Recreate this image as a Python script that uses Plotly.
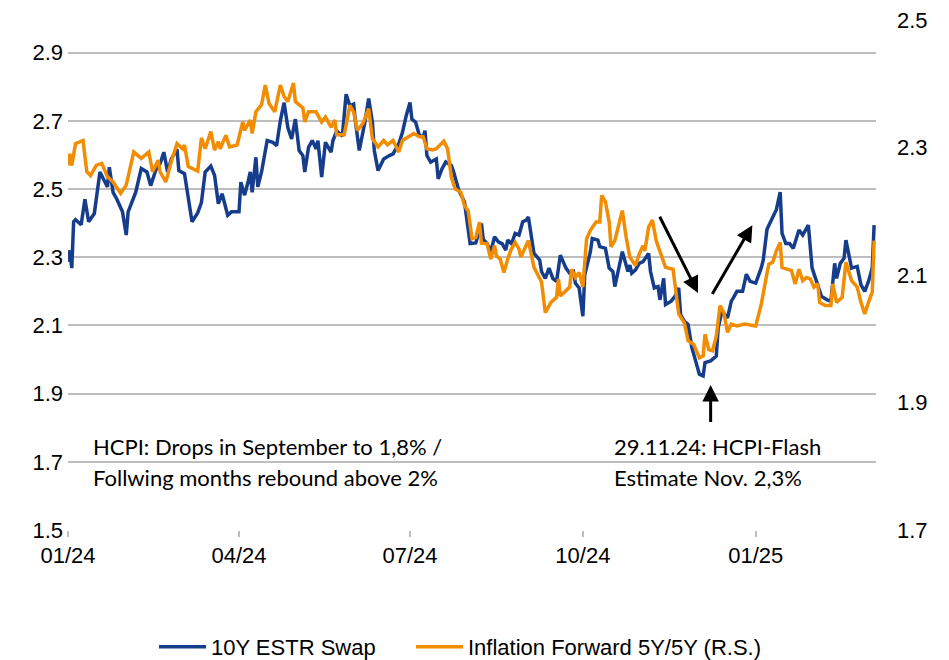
import plotly.graph_objects as go

# ---------------- data ----------------
swap_dates = [
    "2024-01-01", "2024-01-02", "2024-01-03", "2024-01-04", "2024-01-05", "2024-01-08", "2024-01-10", "2024-01-12",
    "2024-01-15", "2024-01-18", "2024-01-22", "2024-01-23", "2024-01-25", "2024-01-27", "2024-01-30",
    "2024-02-01", "2024-02-02", "2024-02-05", "2024-02-06", "2024-02-09", "2024-02-12", "2024-02-14", "2024-02-17",
    "2024-02-19", "2024-02-21", "2024-02-23", "2024-02-25", "2024-02-28", "2024-02-29",
    "2024-03-03", "2024-03-05", "2024-03-07", "2024-03-10", "2024-03-12", "2024-03-14", "2024-03-17", "2024-03-19",
    "2024-03-21", "2024-03-23", "2024-03-26", "2024-03-28",
    "2024-04-01", "2024-04-02", "2024-04-04", "2024-04-06", "2024-04-07", "2024-04-08", "2024-04-10", "2024-04-11",
    "2024-04-13", "2024-04-16", "2024-04-19", "2024-04-21", "2024-04-23", "2024-04-25", "2024-04-27", "2024-04-29",
    "2024-05-01", "2024-05-03", "2024-05-05", "2024-05-06", "2024-05-08", "2024-05-10", "2024-05-12", "2024-05-13",
    "2024-05-15", "2024-05-17", "2024-05-20", "2024-05-21", "2024-05-23", "2024-05-26", "2024-05-28", "2024-05-30",
    "2024-06-01", "2024-06-02", "2024-06-04", "2024-06-07", "2024-06-09", "2024-06-11", "2024-06-12", "2024-06-14",
    "2024-06-17", "2024-06-20", "2024-06-22", "2024-06-25", "2024-06-27", "2024-06-29",
    "2024-07-01", "2024-07-02", "2024-07-04", "2024-07-06", "2024-07-08", "2024-07-09", "2024-07-10", "2024-07-12",
    "2024-07-15", "2024-07-16", "2024-07-18", "2024-07-20", "2024-07-23", "2024-07-24", "2024-07-27", "2024-07-30",
    "2024-07-31",
    "2024-08-02", "2024-08-05", "2024-08-08", "2024-08-09", "2024-08-11", "2024-08-13", "2024-08-15", "2024-08-17",
    "2024-08-19", "2024-08-21", "2024-08-22", "2024-08-24", "2024-08-26", "2024-08-28", "2024-08-30",
    "2024-09-01", "2024-09-02", "2024-09-05", "2024-09-08", "2024-09-09", "2024-09-11", "2024-09-13", "2024-09-15",
    "2024-09-17", "2024-09-19", "2024-09-22", "2024-09-24", "2024-09-26", "2024-09-27", "2024-09-29",
    "2024-10-01", "2024-10-02", "2024-10-05", "2024-10-06", "2024-10-09", "2024-10-10", "2024-10-13", "2024-10-15",
    "2024-10-17", "2024-10-18", "2024-10-20", "2024-10-22", "2024-10-25", "2024-10-26", "2024-10-27", "2024-10-29",
    "2024-10-31",
    "2024-11-02", "2024-11-05", "2024-11-06", "2024-11-08", "2024-11-10", "2024-11-11", "2024-11-13", "2024-11-14",
    "2024-11-17", "2024-11-19", "2024-11-21", "2024-11-22", "2024-11-24", "2024-11-26", "2024-11-28", "2024-11-30",
    "2024-12-02", "2024-12-04", "2024-12-05", "2024-12-08", "2024-12-11", "2024-12-12", "2024-12-14", "2024-12-17",
    "2024-12-19", "2024-12-20", "2024-12-22", "2024-12-25", "2024-12-27", "2024-12-29",
    "2025-01-01", "2025-01-04", "2025-01-05", "2025-01-07", "2025-01-10", "2025-01-12", "2025-01-14", "2025-01-15",
    "2025-01-17", "2025-01-19", "2025-01-21", "2025-01-24", "2025-01-26", "2025-01-29", "2025-01-31",
    "2025-02-03", "2025-02-05", "2025-02-08", "2025-02-10", "2025-02-12", "2025-02-13", "2025-02-15", "2025-02-17",
    "2025-02-18", "2025-02-21", "2025-02-24", "2025-02-26", "2025-02-28",
    "2025-03-02", "2025-03-04", "2025-03-05",
]
swap_values = [
    2.287, 2.32, 2.268, 2.404, 2.41, 2.395, 2.47, 2.404,
    2.428, 2.55, 2.506, 2.564, 2.49, 2.47, 2.433,
    2.365, 2.433, 2.48, 2.49, 2.56, 2.55, 2.51, 2.56,
    2.574, 2.608, 2.55, 2.588, 2.617, 2.554,
    2.545, 2.47, 2.404, 2.43, 2.46, 2.55, 2.567, 2.54,
    2.457, 2.486, 2.423, 2.433,
    2.433, 2.52, 2.482, 2.525, 2.55, 2.49, 2.593, 2.506,
    2.55, 2.642, 2.637, 2.627, 2.70, 2.753, 2.68, 2.647,
    2.705, 2.613, 2.598, 2.55, 2.622, 2.642, 2.618, 2.642,
    2.535, 2.637, 2.608, 2.642, 2.67, 2.655, 2.778, 2.744,
    2.749, 2.696, 2.613, 2.696, 2.765, 2.696, 2.613, 2.554,
    2.588, 2.598, 2.603, 2.632, 2.666, 2.715,
    2.754, 2.705, 2.696, 2.657, 2.652, 2.671, 2.598, 2.579,
    2.588, 2.53, 2.559, 2.579, 2.569, 2.554, 2.496, 2.462,
    2.423,
    2.34, 2.342, 2.399, 2.352, 2.34, 2.316, 2.36, 2.345,
    2.34, 2.321, 2.35, 2.34, 2.37, 2.365, 2.404,
    2.409, 2.418, 2.311, 2.292, 2.258, 2.238, 2.268, 2.238,
    2.229, 2.306, 2.268, 2.253, 2.258, 2.224, 2.21,
    2.127, 2.248, 2.316, 2.355, 2.35, 2.331, 2.326, 2.268,
    2.258, 2.214, 2.268, 2.316, 2.258, 2.277, 2.253, 2.263,
    2.282,
    2.287, 2.311, 2.258, 2.21, 2.214, 2.175, 2.238, 2.161,
    2.171, 2.185, 2.21, 2.132, 2.112, 2.103, 2.035, 1.996,
    1.957, 1.952, 1.991, 1.996, 2.01, 2.093, 2.141, 2.122,
    2.171, 2.18, 2.20, 2.20, 2.25, 2.229,
    2.224, 2.27, 2.292, 2.382, 2.42, 2.44, 2.491, 2.37,
    2.34, 2.34, 2.326, 2.38, 2.365, 2.394, 2.268,
    2.214, 2.185, 2.175, 2.171, 2.282, 2.238, 2.282, 2.297,
    2.35, 2.268, 2.273, 2.219, 2.20,
    2.229, 2.268, 2.394,
]

infl_dates = [
    "2024-01-01", "2024-01-02", "2024-01-03", "2024-01-05", "2024-01-09", "2024-01-11", "2024-01-13", "2024-01-16",
    "2024-01-19", "2024-01-22", "2024-01-25", "2024-01-29",
    "2024-02-01", "2024-02-05", "2024-02-09", "2024-02-13", "2024-02-15", "2024-02-18", "2024-02-19", "2024-02-22",
    "2024-02-25", "2024-02-28",
    "2024-03-02", "2024-03-03", "2024-03-05", "2024-03-10", "2024-03-12", "2024-03-14", "2024-03-17", "2024-03-19",
    "2024-03-21", "2024-03-22", "2024-03-25", "2024-03-27", "2024-03-31",
    "2024-04-03", "2024-04-04", "2024-04-07", "2024-04-08", "2024-04-10", "2024-04-13", "2024-04-15", "2024-04-17",
    "2024-04-20", "2024-04-23", "2024-04-25", "2024-04-27", "2024-04-30",
    "2024-05-01", "2024-05-05", "2024-05-06", "2024-05-08", "2024-05-12", "2024-05-15", "2024-05-17", "2024-05-20",
    "2024-05-22", "2024-05-23", "2024-05-27", "2024-05-30",
    "2024-06-01", "2024-06-03", "2024-06-06", "2024-06-09", "2024-06-11", "2024-06-14", "2024-06-17", "2024-06-19",
    "2024-06-22", "2024-06-25", "2024-06-27", "2024-06-30",
    "2024-07-03", "2024-07-06", "2024-07-08", "2024-07-10", "2024-07-13", "2024-07-15", "2024-07-17", "2024-07-19",
    "2024-07-21", "2024-07-23", "2024-07-25", "2024-07-28", "2024-07-30",
    "2024-08-01", "2024-08-03", "2024-08-05", "2024-08-07", "2024-08-08", "2024-08-11", "2024-08-13", "2024-08-15",
    "2024-08-16", "2024-08-18", "2024-08-20", "2024-08-22", "2024-08-24", "2024-08-26", "2024-08-28", "2024-08-29",
    "2024-08-31",
    "2024-09-02", "2024-09-05", "2024-09-08", "2024-09-09", "2024-09-11", "2024-09-14", "2024-09-17", "2024-09-18",
    "2024-09-19", "2024-09-22", "2024-09-24", "2024-09-25", "2024-09-27", "2024-09-29",
    "2024-10-01", "2024-10-03", "2024-10-05", "2024-10-08", "2024-10-10", "2024-10-11", "2024-10-13", "2024-10-15",
    "2024-10-16", "2024-10-18", "2024-10-20", "2024-10-22", "2024-10-24", "2024-10-26", "2024-10-29", "2024-10-31",
    "2024-11-02", "2024-11-03", "2024-11-05", "2024-11-07", "2024-11-09", "2024-11-11", "2024-11-14", "2024-11-18",
    "2024-11-19", "2024-11-21", "2024-11-24", "2024-11-26", "2024-11-29",
    "2024-12-02", "2024-12-04", "2024-12-05", "2024-12-07", "2024-12-09", "2024-12-11", "2024-12-13", "2024-12-15",
    "2024-12-17", "2024-12-19", "2024-12-22", "2024-12-26", "2024-12-29",
    "2025-01-01", "2025-01-04", "2025-01-05", "2025-01-07", "2025-01-08", "2025-01-10", "2025-01-12", "2025-01-14",
    "2025-01-15", "2025-01-18", "2025-01-20", "2025-01-22", "2025-01-24", "2025-01-26", "2025-01-28", "2025-01-30",
    "2025-02-01", "2025-02-03", "2025-02-04", "2025-02-07", "2025-02-10", "2025-02-11", "2025-02-13", "2025-02-16",
    "2025-02-18", "2025-02-21", "2025-02-24", "2025-02-26", "2025-02-28",
    "2025-03-02", "2025-03-04", "2025-03-05",
]
infl_values = [
    2.272, 2.29, 2.272, 2.306, 2.311, 2.262, 2.256, 2.272,
    2.275, 2.254, 2.246, 2.228,
    2.241, 2.293, 2.283, 2.293, 2.262, 2.28, 2.262, 2.246,
    2.278, 2.306,
    2.298, 2.304, 2.27, 2.263, 2.315, 2.298, 2.325, 2.296,
    2.309, 2.298, 2.319, 2.301, 2.304,
    2.34, 2.327, 2.343, 2.322, 2.356, 2.367, 2.398, 2.369,
    2.356, 2.398, 2.38, 2.372, 2.401,
    2.372, 2.362, 2.34, 2.356, 2.356, 2.34, 2.348, 2.332,
    2.343, 2.32, 2.32, 2.366,
    2.356, 2.327, 2.338, 2.361, 2.314, 2.301, 2.311, 2.304,
    2.311, 2.293, 2.311, 2.317,
    2.322, 2.317, 2.317, 2.298, 2.296, 2.298, 2.304, 2.31,
    2.298, 2.254, 2.235, 2.23, 2.209,
    2.2, 2.157, 2.159, 2.183, 2.15, 2.149, 2.125, 2.146,
    2.13, 2.125, 2.104, 2.125, 2.141, 2.151, 2.141, 2.128,
    2.141,
    2.154, 2.112, 2.094, 2.089, 2.041, 2.057, 2.065, 2.094,
    2.067, 2.075, 2.081, 2.109, 2.096, 2.104,
    2.081, 2.157, 2.17, 2.183, 2.183, 2.225, 2.215, 2.183,
    2.144, 2.154, 2.178, 2.201, 2.16, 2.128, 2.115, 2.133,
    2.146, 2.138, 2.175, 2.186, 2.154, 2.138, 2.112, 2.109,
    2.083, 2.039, 2.025, 1.997, 1.991,
    1.97, 1.973, 2.007, 1.983, 1.981, 2.004, 2.052, 2.041,
    2.01, 2.023, 2.02, 2.023, 2.021,
    2.02, 2.055, 2.073, 2.103, 2.117, 2.12, 2.138, 2.151,
    2.112, 2.109, 2.107, 2.086, 2.109, 2.091, 2.096, 2.094,
    2.081, 2.086, 2.057, 2.052, 2.052, 2.086, 2.057, 2.065,
    2.12, 2.091, 2.081, 2.057, 2.039,
    2.057, 2.073, 2.154,
]

series_names = ["10Y ESTR Swap", "Inflation Forward 5Y/5Y (R.S.)"]
left_ticks = [1.5, 1.7, 1.9, 2.1, 2.3, 2.5, 2.7, 2.9]
right_ticks = [1.7, 1.9, 2.1, 2.3, 2.5]
note_left = ["HCPI: Drops in September to 1,8% /", "Follwing months rebound above 2%"]
note_right = ["29.11.24: HCPI-Flash", "Estimate Nov. 2,3%"]

# ---------------- styling ----------------
BLUE = "#163D8C"
ORANGE = "#F28C00"
GRID = "#BEBEBE"
AX_FONT = dict(family="Liberation Sans, Arial, sans-serif", size=22, color="#000000")
NOTE_FONT = dict(family="Lato, Carlito, sans-serif", size=22, color="#000000")

fig = go.Figure()
fig.add_trace(go.Scatter(x=swap_dates, y=swap_values, name=series_names[0], mode="lines",
                         line=dict(color=BLUE, width=3.5), yaxis="y", legend="legend"))
fig.add_trace(go.Scatter(x=infl_dates, y=infl_values, name=series_names[1], mode="lines",
                         line=dict(color=ORANGE, width=3.5), yaxis="y2", legend="legend2"))

plot_h = 514.0
left_px_per_unit = 341.0
right_px_per_unit = 637.5

legend_common = dict(orientation="h", xref="container", yref="container", xanchor="left",
                     y=(660 - 647) / 660, yanchor="middle", font=AX_FONT, itemwidth=47,
                     bgcolor="rgba(0,0,0,0)")

fig.update_layout(
    width=949, height=660,
    margin=dict(l=68, r=73, t=16, b=130),
    paper_bgcolor="white", plot_bgcolor="white",
    font=AX_FONT,
    showlegend=True,
    legend=dict(legend_common, x=154 / 949),
    legend2=dict(legend_common, x=411 / 949),
    xaxis=dict(type="date", range=["2024-01-01", "2025-03-06"], dtick="M3", tick0="2024-01-01",
               tickformat="%m/%y", showgrid=False, zeroline=False, showline=False,
               ticks="outside", ticklen=6, tickcolor=GRID, tickwidth=1.5,
               tickfont=AX_FONT, ticklabelstandoff=0, automargin=False),
    yaxis=dict(range=[1.5, 1.5 + plot_h / left_px_per_unit], tickvals=left_ticks,
               ticktext=[f"{v:.1f}" for v in left_ticks],
               showgrid=True, gridcolor=GRID, gridwidth=1.5, zeroline=False, showline=False,
               ticks="", tickfont=AX_FONT, ticklabelstandoff=4, automargin=False),
    yaxis2=dict(range=[1.7, 1.7 + plot_h / right_px_per_unit], tickvals=right_ticks,
                ticktext=[f"{v:.1f}" for v in right_ticks],
                overlaying="y", side="right", showgrid=False, zeroline=False, showline=False,
                ticks="", tickfont=AX_FONT, ticklabelstandoff=20, automargin=False),
)

# text notes
for i, t in enumerate(note_left):
    fig.add_annotation(text=t, xref="paper", yref="paper", x=0.0285, y=[0.1615, 0.1031][i],
                       xanchor="left", yanchor="middle", showarrow=False, font=NOTE_FONT)
for i, t in enumerate(note_right):
    fig.add_annotation(text=t, xref="paper", yref="paper", x=0.673, y=[0.1615, 0.1031][i],
                       xanchor="left", yanchor="middle", showarrow=False, font=NOTE_FONT)

# arrows (tail -> head)
arrows = [
    (("2024-11-10 12:00", 2.423), ("2024-12-01 07:00", 2.195)),
    (("2024-12-08 10:00", 2.188), ("2024-12-30 05:00", 2.394)),
    (("2024-12-08 00:00", 1.812), ("2024-12-08 00:00", 1.925)),
]
for (tx, ty), (hx, hy) in arrows:
    fig.add_annotation(x=hx, y=hy, ax=tx, ay=ty, xref="x", yref="y", axref="x", ayref="y",
                       showarrow=True, arrowhead=2, arrowsize=1.1, arrowwidth=3,
                       arrowcolor="#000000", text="")

fig.write_html("out.html", config={"displayModeBar": False},
               post_script="document.body.style.margin='0';")
